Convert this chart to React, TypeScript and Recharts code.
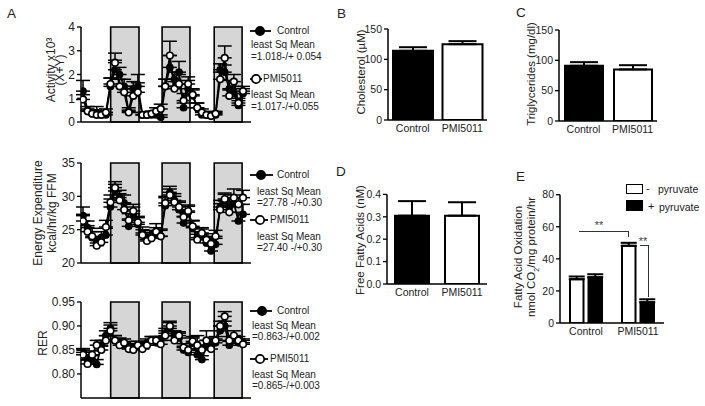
import React from 'react';
import { LineChart, Line, XAxis, YAxis, ReferenceArea, ErrorBar, BarChart, Bar, Cell } from 'recharts';

const FONT = '"Liberation Sans", Arial, sans-serif';
const TXT = '#222';

// ---- Panel A data (time in hours, 2-h bins) ----
const hours = [0, 2, 4, 6, 8, 10, 12, 14, 16, 18, 20, 22, 24, 26, 28, 30, 32, 34, 36, 38, 40, 42, 44, 46, 48, 50, 52, 54, 56, 58, 60, 62, 64, 66, 68, 70];
const darkPeriods: [number, number][] = [[12.1, 24.5], [34.6, 46.8], [57.4, 69.6]];

const actCtrl = [1.3, 0.5, 0.35, 0.4, 0.35, 0.3, 1.5, 2.2, 2.0, 1.5, 0.45, 1.4, 1.5, 0.3, 0.3, 0.3, 0.3, 0.2, 1.5, 2.3, 1.8, 2.1, 0.6, 1.4, 1.1, 0.6, 0.3, 0.3, 0.3, 0.3, 2.2, 2.1, 1.4, 1.2, 0.7, 1.2];
const actCtrlErr = [0.45, 0.15, 0.1, 0.25, 0.15, 0.1, 0.35, 0.4, 0.3, 0.3, 0.15, 0.3, 0.5, 0.1, 0.1, 0.15, 0.1, 0.1, 0.3, 0.5, 0.3, 0.45, 0.2, 0.35, 0.25, 0.2, 0.15, 0.1, 0.1, 0.1, 0.25, 0.3, 0.35, 0.3, 0.2, 0.2];
const actPmi = [0.95, 0.45, 0.35, 0.3, 0.3, 0.4, 1.6, 2.5, 1.5, 1.25, 0.4, 1.1, 1.25, 0.3, 0.3, 0.35, 0.45, 0.55, 1.5, 2.8, 1.4, 1.6, 0.9, 1.6, 1.15, 0.6, 0.4, 0.3, 0.25, 0.35, 1.8, 2.7, 1.1, 1.7, 0.8, 1.3];
const actPmiErr = [0.2, 0.1, 0.1, 0.1, 0.1, 0.15, 0.25, 0.4, 0.3, 0.25, 0.1, 0.3, 0.4, 0.1, 0.1, 0.1, 0.15, 0.2, 0.3, 0.6, 0.3, 0.4, 0.3, 0.3, 0.25, 0.2, 0.15, 0.1, 0.1, 0.1, 0.3, 0.5, 0.25, 0.3, 0.2, 0.2];

const eeCtrl = [27.1, 25.3, 23.8, 23.0, 23.8, 24.2, 28.4, 30.8, 29.8, 29.0, 25.5, 27.4, 25.8, 24.5, 23.5, 24.0, 24.3, 24.0, 28.6, 30.6, 29.4, 28.0, 26.0, 27.6, 25.3, 23.8, 24.2, 23.0, 21.8, 22.8, 28.4, 29.3, 28.4, 29.0, 26.3, 27.3];
const eeCtrlErr = [1.3, 1.0, 0.9, 0.8, 0.9, 1.0, 1.2, 1.0, 1.1, 1.2, 1.1, 1.0, 1.0, 0.9, 0.8, 0.9, 1.0, 1.1, 1.2, 0.9, 1.0, 1.1, 1.0, 0.9, 1.0, 0.9, 0.9, 0.9, 0.8, 0.9, 1.0, 1.0, 1.1, 1.2, 1.3, 1.5];
const eePmi = [26.3, 24.7, 24.0, 22.6, 23.1, 25.4, 29.1, 31.3, 29.4, 28.0, 26.4, 27.8, 26.1, 24.2, 23.3, 23.7, 24.7, 24.0, 29.0, 30.2, 29.1, 28.4, 26.9, 27.8, 25.5, 23.5, 24.5, 23.5, 22.9, 24.0, 28.0, 29.6, 27.6, 29.8, 28.8, 29.8];
const eePmiErr = [1.0, 0.9, 1.2, 0.9, 0.8, 1.0, 1.1, 0.9, 1.0, 1.0, 1.0, 1.0, 0.9, 0.8, 0.8, 0.9, 1.2, 0.9, 1.0, 0.9, 0.9, 0.9, 0.9, 0.9, 0.9, 0.8, 0.8, 0.9, 0.8, 0.9, 0.9, 0.9, 1.0, 1.3, 1.0, 1.1];

const rerCtrl = [0.845, 0.830, 0.830, 0.820, 0.860, 0.880, 0.895, 0.870, 0.865, 0.860, 0.855, 0.855, 0.860, 0.855, 0.865, 0.870, 0.865, 0.870, 0.885, 0.895, 0.880, 0.875, 0.850, 0.845, 0.865, 0.840, 0.830, 0.860, 0.865, 0.865, 0.890, 0.900, 0.860, 0.870, 0.865, 0.865];
const rerCtrlErr = [0.008, 0.008, 0.008, 0.01, 0.01, 0.01, 0.012, 0.01, 0.01, 0.008, 0.008, 0.008, 0.008, 0.008, 0.008, 0.008, 0.008, 0.008, 0.01, 0.012, 0.01, 0.01, 0.008, 0.008, 0.01, 0.01, 0.008, 0.01, 0.01, 0.008, 0.01, 0.01, 0.008, 0.008, 0.008, 0.008];
const rerPmi = [0.840, 0.821, 0.840, 0.860, 0.850, 0.870, 0.890, 0.870, 0.860, 0.865, 0.852, 0.850, 0.860, 0.852, 0.860, 0.870, 0.870, 0.862, 0.880, 0.900, 0.870, 0.880, 0.855, 0.850, 0.868, 0.860, 0.850, 0.870, 0.852, 0.870, 0.900, 0.920, 0.870, 0.880, 0.870, 0.862];
const rerPmiErr = [0.01, 0.008, 0.008, 0.01, 0.008, 0.01, 0.012, 0.01, 0.01, 0.008, 0.008, 0.008, 0.008, 0.008, 0.008, 0.008, 0.008, 0.008, 0.01, 0.01, 0.01, 0.008, 0.008, 0.008, 0.01, 0.02, 0.008, 0.02, 0.008, 0.008, 0.01, 0.01, 0.008, 0.01, 0.008, 0.008];

// ---- Bar panels ----
const groups = ['Control', 'PMI5011'];
const cholesterol = [114, 125];
const cholesterolErr = [6, 5];
const triglycerides = [91, 85];
const triglyceridesErr = [6, 7];
const ffa = [0.305, 0.305];
const ffaErr = [0.065, 0.06];
const faoMinus = [27.3, 48.1];
const faoMinusErr = [1.7, 1.9];
const faoPlus = [28.5, 12.9];
const faoPlusErr = [1.9, 1.9];

const buildSeries = (c: number[], ce: number[], p: number[], pe: number[]) =>
  hours.map((h, i) => ({ h, ctrl: c[i], ctrlErr: [0, ce[i]], pmi: p[i], pmiErr: [0, pe[i]] }));

const actData = buildSeries(actCtrl, actCtrlErr, actPmi, actPmiErr);
const eeData = buildSeries(eeCtrl, eeCtrlErr, eePmi, eePmiErr);
const rerData = buildSeries(rerCtrl, rerCtrlErr, rerPmi, rerPmiErr);

const barData = (v: number[], e: number[]) => groups.map((g, i) => ({ name: g, value: v[i], err: [0, e[i]] }));
const faoData = groups.map((g, i) => ({ name: g, minus: faoMinus[i], minusErr: [0, faoMinusErr[i]], plus: faoPlus[i], plusErr: [0, faoPlusErr[i]] }));

const axisLine = { stroke: '#000', strokeWidth: 1.5 };
const tickLine = { stroke: '#000', strokeWidth: 1.3 };

function T({ x, y, children, size = 10, anchor = 'start', color = TXT }: any) {
  const tx = anchor === 'middle' ? '-50%' : anchor === 'end' ? '-100%' : '0';
  return (
    <div style={{ position: 'absolute', left: x, top: y, transform: `translate(${tx}, -50%)`, fontSize: size, lineHeight: 1, whiteSpace: 'nowrap', color }}>
      {children}
    </div>
  );
}

function VT({ x, y, children, size = 12 }: any) {
  return (
    <div style={{ position: 'absolute', left: x, top: y, transform: 'translate(-50%, -50%) rotate(-90deg)', fontSize: size, lineHeight: 1, whiteSpace: 'nowrap', color: TXT }}>
      {children}
    </div>
  );
}

function Marker({ x, y, filled, w = 22, cx = 10 }: any) {
  return (
    <svg style={{ position: 'absolute', left: x, top: y - 6 }} width={w} height={12}>
      <line x1={0} y1={6} x2={w} y2={6} stroke="#000" strokeWidth={1.8} />
      <circle cx={cx} cy={6} r={4.2} fill={filled ? '#000' : '#fff'} stroke="#000" strokeWidth={1.7} />
    </svg>
  );
}

function LinePanel({ data, top, height, marginTop, domain, ticks, fmt }: any) {
  return (
    <div style={{ position: 'absolute', left: 0, top }}>
      <LineChart width={260} height={height} data={data} margin={{ top: marginTop, right: 9, left: 51, bottom: 1 }}>
        <XAxis dataKey="h" type="number" domain={[-0.88, 73.5]} allowDataOverflow tick={false} tickLine={false} axisLine={axisLine} height={5} />
        <YAxis type="number" domain={domain} ticks={ticks} interval={0} allowDataOverflow width={30} tickFormatter={fmt}
          axisLine={axisLine} tickLine={tickLine} tickSize={4} tickMargin={2}
          tick={{ fontSize: 12, fill: TXT, fontFamily: FONT }} />
        {darkPeriods.map((d, i) => (
          <ReferenceArea key={i} x1={d[0]} x2={d[1]} fill="#d6d6d6" fillOpacity={1} stroke="#000" strokeWidth={1.6} />
        ))}
        <Line dataKey="ctrl" stroke="#000" strokeWidth={1.8} isAnimationActive={false}
          dot={{ r: 3.2, fill: '#000', stroke: '#000', strokeWidth: 1.3 }}>
          <ErrorBar dataKey="ctrlErr" direction="y" width={7} stroke="#000" strokeWidth={1.5} />
        </Line>
        <Line dataKey="pmi" stroke="#000" strokeWidth={1.8} isAnimationActive={false}
          dot={{ r: 3.3, fill: '#fff', stroke: '#000', strokeWidth: 1.6 }}>
          <ErrorBar dataKey="pmiErr" direction="y" width={7} stroke="#000" strokeWidth={1.5} />
        </Line>
      </LineChart>
    </div>
  );
}

function SimpleBar({ data, left, top, width, height, marginTop, domain, ticks, fmt, barSize }: any) {
  return (
    <div style={{ position: 'absolute', left, top }}>
      <BarChart width={width} height={height} data={data} margin={{ top: marginTop, right: 0, left: 0, bottom: 0 }} barSize={barSize}>
        <XAxis dataKey="name" tickLine={false} axisLine={axisLine} height={20} tickSize={3} tickMargin={2} interval={0}
          tick={{ fontSize: 10.5, fill: TXT, fontFamily: FONT }} />
        <YAxis type="number" domain={domain} ticks={ticks} interval={0} allowDataOverflow width={30} tickFormatter={fmt}
          axisLine={axisLine} tickLine={tickLine} tickSize={4} tickMargin={2}
          tick={{ fontSize: 10.5, fill: TXT, fontFamily: FONT }} />
        <Bar dataKey="value" stroke="#000" strokeWidth={2} isAnimationActive={false}>
          {data.map((d: any, i: number) => <Cell key={i} fill={i === 0 ? '#000' : '#fff'} />)}
          <ErrorBar dataKey="err" direction="y" width={14} stroke="#000" strokeWidth={2} />
        </Bar>
      </BarChart>
    </div>
  );
}

export default function App() {
  return (
    <div style={{ position: 'absolute', left: 0, top: 0, width: 705, height: 406, background: '#fff', overflow: 'hidden', fontFamily: FONT, color: TXT }}>
      {/* Panel letters */}
      <T x={7} y={14} size={13.5}>A</T>
      <T x={337} y={14} size={13.5}>B</T>
      <T x={516} y={13} size={13.5}>C</T>
      <T x={336} y={172} size={13.5}>D</T>
      <T x={516} y={177} size={13.5}>E</T>

      {/* A: activity */}
      <LinePanel data={actData} top={0} height={128} marginTop={27} domain={[0, 4]} ticks={[0, 1, 2, 3, 4]} fmt={(v: number) => String(v)} />
      <VT x={51} y={70}>Activity x10³</VT>
      <VT x={60} y={70}>(X+Y)</VT>
      <Marker x={250} y={31} filled w={21} cx={10} />
      <T x={277} y={31}>Control</T>
      <T x={251} y={45}>least Sq Mean</T>
      <T x={251} y={57}>=1.018-/+ 0.054</T>
      <Marker x={250} y={79} w={12} cx={6} />
      <T x={263} y={79}>PMI5011</T>
      <T x={251} y={95}>least Sq Mean</T>
      <T x={251} y={107}>=1.017-/+0.055</T>

      {/* A: energy expenditure */}
      <LinePanel data={eeData} top={140} height={129} marginTop={23} domain={[20, 35]} ticks={[20, 25, 30, 35]} fmt={(v: number) => String(v)} />
      <VT x={38} y={213}>Energy Expenditure</VT>
      <VT x={52} y={213}>kcal/hr/kg FFM</VT>
      <Marker x={250} y={175} filled w={23} cx={11} />
      <T x={277} y={175}>Control</T>
      <T x={257} y={192}>least Sq Mean</T>
      <T x={257} y={203}>=27.78 -/+0.30</T>
      <Marker x={250} y={220} w={18} cx={10} />
      <T x={270} y={220}>PMI5011</T>
      <T x={257} y={237}>least Sq Mean</T>
      <T x={257} y={248}>=27.40 -/+0.30</T>

      {/* A: RER */}
      <LinePanel data={rerData} top={280} height={124} marginTop={22} domain={[0.75, 0.95]} ticks={[0.8, 0.85, 0.9, 0.95]} fmt={(v: number) => v.toFixed(2)} />
      <VT x={43} y={343}>RER</VT>
      <Marker x={250} y={311} filled w={22} cx={12} />
      <T x={277} y={311}>Control</T>
      <T x={252} y={326}>least Sq Mean</T>
      <T x={252} y={337}>=0.863-/+0.002</T>
      <Marker x={250} y={359} w={18} cx={10} />
      <T x={270} y={359}>PMI5011</T>
      <T x={252} y={375}>least Sq Mean</T>
      <T x={252} y={386}>=0.865-/+0.003</T>

      {/* B: cholesterol */}
      <SimpleBar data={barData(cholesterol, cholesterolErr)} left={358} top={0} width={129} height={140} marginTop={29}
        domain={[0, 150]} ticks={[0, 50, 100, 150]} fmt={(v: number) => String(v)} barSize={40} />
      <VT x={362} y={72} size={11.5}>Cholesterol (µM)</VT>

      {/* C: triglycerides */}
      <SimpleBar data={barData(triglycerides, triglyceridesErr)} left={529} top={0} width={128} height={141} marginTop={30}
        domain={[0, 150]} ticks={[0, 50, 100, 150]} fmt={(v: number) => String(v)} barSize={38} />
      <VT x={532} y={74} size={11.5}>Triglycerides (mg/dl)</VT>

      {/* D: free fatty acids */}
      <SimpleBar data={barData(ffa, ffaErr)} left={357} top={170} width={130} height={134} marginTop={24.4}
        domain={[0, 0.4]} ticks={[0, 0.1, 0.2, 0.3, 0.4]} fmt={(v: number) => v.toFixed(1)} barSize={34} />
      <VT x={361} y={240} size={11.5}>Free Fatty Acids (nM)</VT>

      {/* E: fatty acid oxidation */}
      <div style={{ position: 'absolute', left: 530, top: 170 }}>
        <BarChart width={134} height={173} data={faoData} margin={{ top: 24.7, right: 0, left: 0, bottom: 0 }} barSize={13.5} barGap={5}>
          <XAxis dataKey="name" tickLine={false} axisLine={axisLine} height={20} tickSize={3} tickMargin={2} interval={0}
            tick={{ fontSize: 10.5, fill: TXT, fontFamily: FONT }} />
          <YAxis type="number" domain={[0, 80]} ticks={[0, 20, 40, 60, 80]} interval={0} allowDataOverflow width={30}
            axisLine={axisLine} tickLine={tickLine} tickSize={4} tickMargin={2}
            tick={{ fontSize: 10.5, fill: TXT, fontFamily: FONT }} />
          <Bar dataKey="minus" fill="#fff" stroke="#000" strokeWidth={2} isAnimationActive={false}>
            <ErrorBar dataKey="minusErr" direction="y" width={8} stroke="#000" strokeWidth={2} />
          </Bar>
          <Bar dataKey="plus" fill="#000" stroke="#000" strokeWidth={2} isAnimationActive={false}>
            <ErrorBar dataKey="plusErr" direction="y" width={8} stroke="#000" strokeWidth={2} />
          </Bar>
        </BarChart>
      </div>
      <VT x={519} y={257} size={11.5}>Fatty Acid Oxidation</VT>
      <VT x={533} y={257} size={11.5}>nmol CO<span style={{ fontSize: 7, verticalAlign: 'sub' }}>2</span>/mg protein/hr</VT>

      {/* E legend */}
      <div style={{ position: 'absolute', left: 626, top: 184, width: 15, height: 8, border: '1.5px solid #000', background: '#fff' }} />
      <T x={646} y={188} size={11}>-</T>
      <T x={658} y={189} size={10.5}>pyruvate</T>
      <div style={{ position: 'absolute', left: 626, top: 200, width: 17, height: 11, background: '#000' }} />
      <T x={648} y={206} size={11}>+</T>
      <T x={659} y={207} size={10.5}>pyruvate</T>

      {/* E significance brackets */}
      <div style={{ position: 'absolute', left: 579, top: 230.5, width: 49, height: 5, borderTop: '1.2px solid #333', borderRight: '1.2px solid #333' }} />
      <T x={599} y={225} size={11} anchor="middle" color="#444">**</T>
      <div style={{ position: 'absolute', left: 640, top: 245, width: 7.5, height: 51, borderTop: '1.2px solid #333', borderRight: '1.2px solid #333' }} />
      <T x={643} y={241} size={11} anchor="middle" color="#444">**</T>
    </div>
  );
}
